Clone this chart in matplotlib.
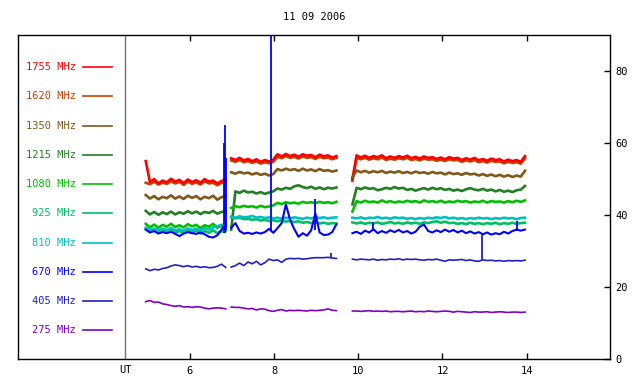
import numpy as np
import matplotlib
matplotlib.use("Agg")
import matplotlib.pyplot as plt

# time grids (UT hours) for the three observing segments
t1 = np.round(np.arange(4.95, 6.86, 0.1), 2)
t2 = np.round(np.arange(6.98, 9.49, 0.1), 2)
t3 = np.round(np.arange(9.86, 13.97, 0.1), 2)

labels = ["1755 MHz", "1620 MHz", "1350 MHz", "1215 MHz", "1080 MHz",
          "925 MHz", "810 MHz", "670 MHz", "405 MHz", "275 MHz"]
colors = ["#ff0000", "#c84000", "#80581a", "#228022", "#00c000",
          "#00bf64", "#00c0c0", "#0000ff", "#2020c0", "#8000c0"]

f1755 = [55.0, 49.2, 50.0, 48.8, 49.6, 49.1, 50.1, 49.3, 49.8, 48.9, 49.9, 49.2, 49.7, 49.0, 50.0, 49.3, 49.6, 48.8, 49.5, 49.8,
         55.8, 55.3, 55.9, 55.2, 55.6, 55.0, 55.5, 54.8, 55.3, 54.9, 55.4, 56.9, 56.3, 57.0, 56.4, 56.8, 56.2, 56.9, 56.5, 56.7, 56.1, 56.8, 56.3, 56.6, 56.0, 56.4,
         50.0, 56.6, 56.0, 56.5, 55.9, 56.4, 56.1, 56.6, 55.8, 56.3, 55.9, 56.4, 56.0, 56.5, 55.8, 56.2, 55.7, 56.3, 55.9, 56.1, 55.6, 56.0, 55.5, 56.1, 55.7, 55.9, 55.3, 55.8, 55.4, 55.9, 55.2, 55.6, 55.1, 55.7, 55.3, 55.5, 54.9, 55.4, 55.0, 55.3, 54.8, 56.4]
f1620 = [49.0, 48.6, 49.3, 48.5, 49.0, 48.7, 49.4, 48.8, 49.2, 48.4, 49.3, 48.7, 49.1, 48.5, 49.4, 48.8, 49.0, 48.3, 49.0, 49.2,
         55.2, 54.8, 55.3, 54.7, 55.0, 54.5, 54.9, 54.3, 54.7, 54.4, 54.8, 56.2, 55.8, 56.4, 55.9, 56.2, 55.7, 56.3, 55.9, 56.1, 55.6, 56.2, 55.8, 56.0, 55.5, 55.9,
         49.5, 55.9, 55.5, 55.9, 55.4, 55.8, 55.5, 56.0, 55.3, 55.7, 55.4, 55.8, 55.5, 55.9, 55.3, 55.6, 55.2, 55.7, 55.4, 55.5, 55.1, 55.4, 55.0, 55.5, 55.2, 55.3, 54.8, 55.2, 54.9, 55.3, 54.7, 55.0, 54.6, 55.1, 54.8, 54.9, 54.4, 54.8, 54.5, 54.7, 54.3, 55.8]
f1350 = [45.6, 44.6, 45.3, 44.4, 45.1, 44.7, 45.5, 44.6, 45.2, 44.5, 45.4, 44.8, 45.3, 44.4, 45.1, 44.7, 45.4, 44.3, 45.0, 45.3,
         51.9, 51.5, 52.0, 51.6, 51.8, 51.3, 51.7, 51.2, 51.5, 51.0, 51.4, 52.8, 52.4, 52.9, 52.5, 52.8, 52.3, 52.9, 52.4, 52.7, 52.2, 52.8, 52.3, 52.5, 52.1, 52.4,
         50.5, 52.4, 51.9, 52.3, 51.8, 52.2, 51.9, 52.3, 51.7, 52.1, 51.8, 52.2, 51.7, 52.0, 51.6, 52.1, 51.7, 51.9, 51.5, 52.0, 51.6, 51.8, 51.3, 51.8, 51.4, 51.6, 51.2, 51.7, 51.3, 51.5, 51.0, 51.4, 50.9, 51.3, 50.8, 51.2, 50.7, 51.1, 50.6, 51.0, 50.7, 52.3]
f1215 = [41.2, 40.2, 40.9, 40.1, 40.8, 40.3, 41.0, 40.2, 40.8, 40.4, 41.1, 40.5, 41.0, 40.3, 40.9, 40.6, 41.2, 40.4, 40.9, 41.1,
         36.0, 46.6, 46.2, 46.8, 46.3, 46.5, 46.0, 46.4, 45.9, 46.3, 46.6, 47.4, 47.1, 47.6, 47.3, 48.0, 48.3, 47.8, 47.5, 47.9, 47.3, 47.7, 47.2, 47.6, 47.4, 47.7,
         43.0, 47.6, 47.2, 47.7, 47.3, 47.5, 46.9, 47.2, 47.6, 47.3, 47.8, 47.4, 47.6, 47.0, 47.3, 46.8, 47.2, 47.5, 47.1, 47.6, 47.2, 47.5, 47.0, 47.3, 46.8, 47.1, 46.7, 47.2, 47.5, 47.1, 46.9, 47.3, 46.8, 47.1, 46.6, 47.0, 46.5, 46.8, 46.4, 46.9, 47.1, 48.1]
f1080 = [37.6, 36.6, 37.4, 36.5, 37.3, 36.8, 37.6, 36.7, 37.2, 36.6, 37.5, 36.9, 37.3, 36.4, 37.2, 36.8, 37.6, 36.5, 37.1, 37.4,
         42.0, 42.5, 42.2, 42.6, 42.3, 42.5, 42.1, 42.6, 42.2, 42.4, 42.7, 43.4, 43.1, 43.6, 43.3, 43.5, 43.2, 43.7, 43.4, 43.6, 43.3, 43.7, 43.4, 43.6, 43.3, 43.7,
         41.0, 43.9, 43.5, 44.0, 43.6, 43.8, 43.5, 44.1, 43.6, 43.9, 43.5, 43.8, 43.6, 44.0, 43.7, 43.9, 43.5, 44.1, 43.7, 43.9, 43.6, 44.0, 43.5, 43.8, 43.6, 44.0, 43.7, 43.9, 43.5, 43.8, 43.6, 44.0, 43.5, 43.9, 43.7, 43.8, 43.5, 43.9, 43.6, 44.0, 43.7, 44.1]
f925 = [36.2, 35.3, 35.9, 35.0, 35.7, 35.2, 36.0, 35.1, 35.6, 35.0, 35.8, 35.3, 35.7, 34.9, 35.6, 35.1, 35.8, 35.0, 35.5, 35.7,
        39.4, 39.1, 39.3, 38.9, 39.0, 38.7, 38.9, 38.5, 38.7, 38.4, 38.6, 38.3, 38.5, 38.2, 38.4, 38.1, 38.3, 37.9, 38.1, 37.8, 38.0, 37.7, 37.9, 37.6, 37.8, 37.7,
        38.0, 37.7, 38.0, 37.6, 37.9, 37.7, 38.0, 37.6, 37.8, 38.1, 37.7, 37.9, 37.6, 38.0, 37.7, 37.9, 37.6, 38.0, 37.8, 38.1, 38.3, 37.9, 38.2, 37.8, 37.9, 37.6, 37.8, 37.5, 37.9, 37.6, 37.8, 37.5, 37.8, 37.6, 37.9, 37.5, 37.8, 37.6, 37.9, 37.6, 37.8, 37.9]
f810 = [36.5, 35.9, 36.3, 35.8, 36.2, 35.9, 36.4, 35.8, 36.1, 35.7, 36.3, 35.9, 36.2, 35.8, 36.4, 36.0, 36.6, 36.9, 37.3, 37.4,
        39.6, 39.3, 39.7, 39.4, 39.5, 39.8, 39.3, 39.5, 39.2, 39.4, 39.1, 39.3, 39.0, 39.3, 39.1, 39.4, 39.2, 39.0, 39.3, 39.1, 39.4, 39.2, 39.4, 39.1, 39.3, 39.4,
        39.3, 39.1, 39.4, 39.0, 39.3, 39.2, 39.5, 39.1, 39.3, 39.0, 39.4, 39.2, 39.3, 39.0, 39.2, 38.9, 39.2, 39.0, 39.3, 39.1, 39.4, 39.2, 39.5, 39.1, 39.3, 39.0, 39.2, 38.9, 39.2, 39.0, 39.3, 39.1, 39.2, 38.9, 39.2, 39.0, 39.3, 39.1, 39.2, 38.9, 39.2, 39.3]
f670 = [36.0, 35.2, 35.6, 34.9, 35.3, 35.0, 35.4, 34.8, 34.2, 34.9, 35.3, 35.0, 34.8, 35.2, 34.7, 34.0, 33.8, 34.4, 36.0, 38.0,
        36.5, 37.8, 35.6, 34.9, 35.1, 34.8, 35.2, 34.9, 35.3, 36.2, 35.1, 36.4, 37.8, 43.0, 38.7, 36.1, 34.0, 35.0, 34.3, 35.8, 40.5, 35.2, 34.5, 34.6, 35.3, 37.5,
        35.0, 35.4, 34.8, 35.7, 35.2, 36.1, 35.0, 35.6, 35.1, 35.8, 35.3, 35.9, 35.2, 35.6, 34.9, 35.4, 36.8, 37.4, 35.6, 35.2, 35.8, 35.3, 36.0, 35.4, 35.9, 35.2, 35.7, 35.0, 35.5, 34.9, 35.3, 34.7, 35.2, 34.6, 35.0, 34.7, 35.4, 34.9, 35.6, 36.0, 35.7, 36.0]
f405 = [25.1, 24.6, 25.0, 24.8, 25.2, 25.4, 25.9, 26.2, 26.0, 25.7, 26.0, 25.6, 25.8, 25.5, 25.7, 25.4, 25.5, 25.8, 26.4, 25.5,
        25.6, 26.0, 26.7, 26.0, 27.0, 26.5, 27.2, 26.2, 26.8, 27.8, 27.4, 27.6, 26.9, 27.8, 28.0, 27.9, 28.0, 27.8, 27.9, 28.1, 28.2, 28.2, 28.2, 28.3, 28.1, 28.0,
        27.8, 27.6, 27.8, 27.7, 27.6, 27.8, 27.5, 27.7, 27.6, 27.8, 27.7, 27.9, 27.6, 27.8, 27.7, 27.8, 27.6, 27.5, 27.7, 27.6, 27.8, 27.5, 27.2, 27.6, 27.5, 27.6, 27.7, 27.4, 27.6, 27.3, 27.2, 27.6, 27.4, 27.5, 27.3, 27.4, 27.2, 27.4, 27.3, 27.4, 27.3, 27.5]
f275 = [16.0, 16.3, 15.8, 15.9, 15.4, 15.2, 14.9, 14.7, 14.9, 14.5, 14.6, 14.4, 14.6, 14.5, 14.2, 14.0, 14.2, 14.3, 14.2, 14.0,
        14.5, 14.4, 14.4, 14.2, 14.0, 14.1, 13.7, 14.0, 13.9, 13.5, 13.3, 13.6, 13.8, 13.4, 13.6, 13.5, 13.6, 13.5, 13.4, 13.6, 13.5, 13.6, 13.7, 14.0, 13.6, 13.5,
        13.4, 13.4, 13.3, 13.4, 13.5, 13.3, 13.4, 13.3, 13.4, 13.2, 13.3, 13.3, 13.2, 13.3, 13.4, 13.2, 13.3, 13.2, 13.4, 13.3, 13.2, 13.3, 13.4, 13.3, 13.1, 13.3, 13.2, 13.1, 13.0, 13.2, 13.1, 13.1, 13.2, 13.0, 13.1, 13.2, 13.1, 13.0, 13.1, 13.1, 13.0, 13.1]

# short bursts drawn as vertical strokes
spike670_t = [6.81, 6.83, 6.85, 7.93, 8.98, 10.36, 13.76]
spike670_lo = [35.0, 35.0, 36.0, 36.0, 36.0, 35.5, 35.5]
spike670_hi = [60.0, 65.0, 56.0, 95.0, 44.5, 38.0, 38.4]
spike405_t = [9.35, 12.95]
spike405_lo = [28.3, 27.5]
spike405_hi = [29.6, 34.5]

ut_ticks = [6, 8, 10, 12, 14]
flux_ticks = [0, 20, 40, 60, 80]

MONO = "DejaVu Sans Mono"
plt.rcParams["font.family"] = MONO

fig = plt.figure(figsize=(6.4, 3.84), dpi=100)
ax = fig.add_axes([18 / 640, 1 - 359.3 / 384, 592 / 640, 324.3 / 384])

t_all = np.concatenate([t1, [np.nan], t2, [np.nan], t3])
n1, n2 = len(t1), len(t2)


def with_gaps(vals):
    v = np.asarray(vals, dtype=float)
    return np.insert(v, [n1, n1 + n2], np.nan)


series = [f1755, f1620, f1350, f1215, f1080, f925, f810, f670, f405, f275]
order = [1, 0, 2, 3, 4, 5, 6, 8, 9, 7]
for i in order:
    lw = 1.2 if i >= 8 else (1.5 if i == 7 else 1.9)
    ax.plot(t_all, with_gaps(series[i]), color=colors[i], lw=lw, zorder=3)

ax.vlines(spike670_t, spike670_lo, spike670_hi, color=colors[7], lw=1.3, zorder=4)
ax.vlines(spike405_t, spike405_lo, spike405_hi, color=colors[8], lw=1.3, zorder=4)

# legend column on the left of the UT line
for i, (lab, col) in enumerate(zip(labels, colors)):
    y = 81.1 - 8.12 * i
    ax.text(3.29, y, lab, color=col, ha="right", va="center", fontsize=7.5)
    ax.plot([3.46, 4.14], [y, y], color=col, lw=1.2)

ax.axvline(4.463, color="#707070", lw=1.0)

ax.set_xlim(1.915, 15.98)
ax.set_ylim(0, 90)
ax.set_xticks(ut_ticks)
ax.set_xticklabels([str(v) for v in ut_ticks])
ax.set_yticks(flux_ticks)
ax.set_yticklabels([str(v) for v in flux_ticks])
ax.tick_params(axis="x", direction="in", top=True, length=4, width=1, pad=5, labelsize=7.5)
ax.tick_params(axis="y", direction="in", left=False, right=True, labelleft=False, labelright=True,
               length=4, width=1, pad=4, labelsize=7.5)
for sp in ax.spines.values():
    sp.set_linewidth(1.0)

ax.text(4.463, -0.033, "UT", transform=ax.get_xaxis_transform(), ha="center", va="center", fontsize=7.5)
fig.text(314 / 640, 1 - 17.5 / 384, "11 09 2006", ha="center", va="center", fontsize=7.5)

fig.savefig("out.png", dpi=100)
